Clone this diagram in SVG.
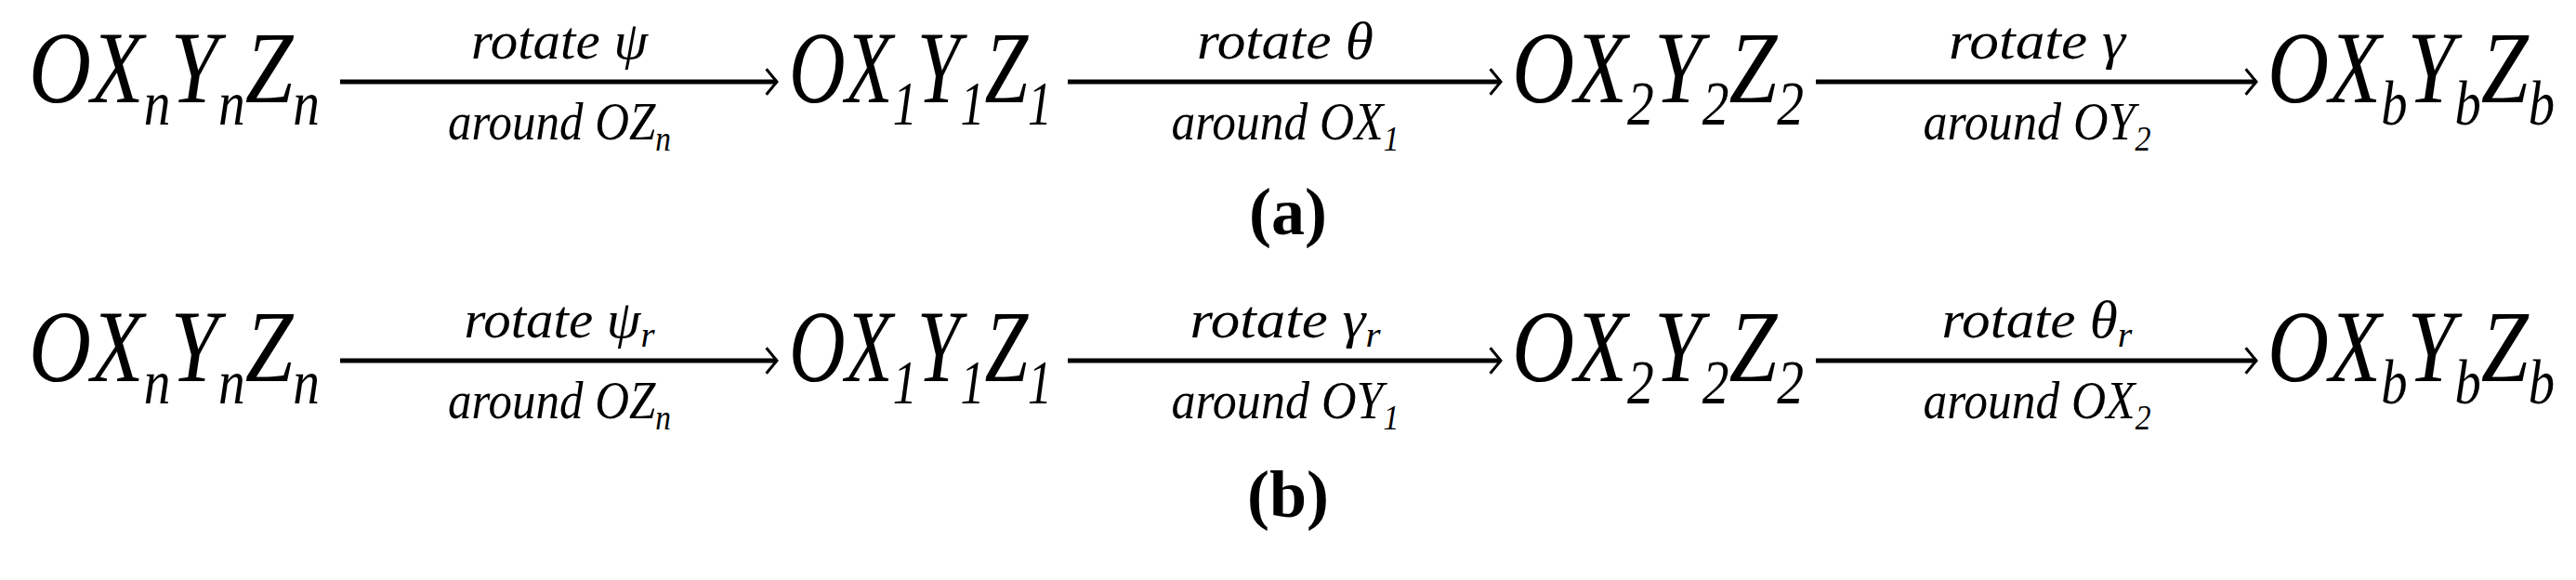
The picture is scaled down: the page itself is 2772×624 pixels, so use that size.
<svg xmlns="http://www.w3.org/2000/svg" width="2772" height="624" viewBox="0 0 2772 624">
<style>
.n{font-family:"Liberation Serif",serif;font-style:italic;font-size:110px;fill:#000}
.s{font-size:68px}
.l{font-family:"Liberation Serif",serif;font-style:italic;font-size:58px;fill:#000;text-anchor:middle}
.ls{font-size:38px}
.c{font-family:"Liberation Serif",serif;font-weight:bold;font-size:72px;text-anchor:middle}
.e{stroke:#000;stroke-width:5;fill:none}
</style>
<defs><marker id="ah" viewBox="0 0 10 10" refX="9" refY="5" markerWidth="6" markerHeight="10" markerUnits="userSpaceOnUse" orient="auto" overflow="visible"><path d="M-10,-18 L9,5 L-10,28" fill="none" stroke="#000" stroke-width="5"/></marker></defs>
<g id="connectors">
<path class="e" d="M366,88H836" marker-end="url(#ah)"/>
<path class="e" d="M1149,88H1615" marker-end="url(#ah)"/>
<path class="e" d="M1954,88H2428" marker-end="url(#ah)"/>
<path class="e" d="M366,388H836" marker-end="url(#ah)"/>
<path class="e" d="M1149,388H1615" marker-end="url(#ah)"/>
<path class="e" d="M1954,388H2428" marker-end="url(#ah)"/>
</g>
<g id="a-labels">
<text class="l" x="602" y="63" textLength="190" lengthAdjust="spacingAndGlyphs">rotate ψ</text>
<text class="l" x="602" y="150" textLength="240" lengthAdjust="spacingAndGlyphs">around OZ<tspan class="ls" dy="12">n</tspan></text>
<text class="l" x="1383" y="63" textLength="190" lengthAdjust="spacingAndGlyphs">rotate θ</text>
<text class="l" x="1383" y="150" textLength="245" lengthAdjust="spacingAndGlyphs">around OX<tspan class="ls" dy="12">1</tspan></text>
<text class="l" x="2192" y="63" textLength="190" lengthAdjust="spacingAndGlyphs">rotate γ</text>
<text class="l" x="2192" y="150" textLength="245" lengthAdjust="spacingAndGlyphs">around OY<tspan class="ls" dy="12">2</tspan></text>
</g>
<g id="b-labels">
<text class="l" x="602" y="363" textLength="205" lengthAdjust="spacingAndGlyphs">rotate ψ<tspan class="ls" dy="10">r</tspan></text>
<text class="l" x="602" y="450" textLength="240" lengthAdjust="spacingAndGlyphs">around OZ<tspan class="ls" dy="12">n</tspan></text>
<text class="l" x="1383" y="363" textLength="205" lengthAdjust="spacingAndGlyphs">rotate γ<tspan class="ls" dy="10">r</tspan></text>
<text class="l" x="1383" y="450" textLength="245" lengthAdjust="spacingAndGlyphs">around OY<tspan class="ls" dy="12">1</tspan></text>
<text class="l" x="2192" y="363" textLength="205" lengthAdjust="spacingAndGlyphs">rotate θ<tspan class="ls" dy="10">r</tspan></text>
<text class="l" x="2192" y="450" textLength="245" lengthAdjust="spacingAndGlyphs">around OX<tspan class="ls" dy="12">2</tspan></text>
</g>
<g id="a-n1"><text class="n" x="31" y="110" textLength="313" lengthAdjust="spacingAndGlyphs">OX<tspan class="s" dy="24">n</tspan><tspan dy="-24">Y</tspan><tspan class="s" dy="24">n</tspan><tspan dy="-24">Z</tspan><tspan class="s" dy="24">n</tspan></text></g>
<g id="a-n2"><text class="n" x="849" y="110" textLength="283" lengthAdjust="spacingAndGlyphs">OX<tspan class="s" dy="24">1</tspan><tspan dy="-24">Y</tspan><tspan class="s" dy="24">1</tspan><tspan dy="-24">Z</tspan><tspan class="s" dy="24">1</tspan></text></g>
<g id="a-n3"><text class="n" x="1627" y="110" textLength="314" lengthAdjust="spacingAndGlyphs">OX<tspan class="s" dy="24">2</tspan><tspan dy="-24">Y</tspan><tspan class="s" dy="24">2</tspan><tspan dy="-24">Z</tspan><tspan class="s" dy="24">2</tspan></text></g>
<g id="a-n4"><text class="n" x="2440" y="110" textLength="309" lengthAdjust="spacingAndGlyphs">OX<tspan class="s" dy="24">b</tspan><tspan dy="-24">Y</tspan><tspan class="s" dy="24">b</tspan><tspan dy="-24">Z</tspan><tspan class="s" dy="24">b</tspan></text></g>
<g id="b-n1"><text class="n" x="31" y="410" textLength="313" lengthAdjust="spacingAndGlyphs">OX<tspan class="s" dy="24">n</tspan><tspan dy="-24">Y</tspan><tspan class="s" dy="24">n</tspan><tspan dy="-24">Z</tspan><tspan class="s" dy="24">n</tspan></text></g>
<g id="b-n2"><text class="n" x="849" y="410" textLength="283" lengthAdjust="spacingAndGlyphs">OX<tspan class="s" dy="24">1</tspan><tspan dy="-24">Y</tspan><tspan class="s" dy="24">1</tspan><tspan dy="-24">Z</tspan><tspan class="s" dy="24">1</tspan></text></g>
<g id="b-n3"><text class="n" x="1627" y="410" textLength="314" lengthAdjust="spacingAndGlyphs">OX<tspan class="s" dy="24">2</tspan><tspan dy="-24">Y</tspan><tspan class="s" dy="24">2</tspan><tspan dy="-24">Z</tspan><tspan class="s" dy="24">2</tspan></text></g>
<g id="b-n4"><text class="n" x="2440" y="410" textLength="309" lengthAdjust="spacingAndGlyphs">OX<tspan class="s" dy="24">b</tspan><tspan dy="-24">Y</tspan><tspan class="s" dy="24">b</tspan><tspan dy="-24">Z</tspan><tspan class="s" dy="24">b</tspan></text></g>
<text class="c" x="1386" y="252">(a)</text>
<text class="c" x="1386" y="556">(b)</text>
</svg>
